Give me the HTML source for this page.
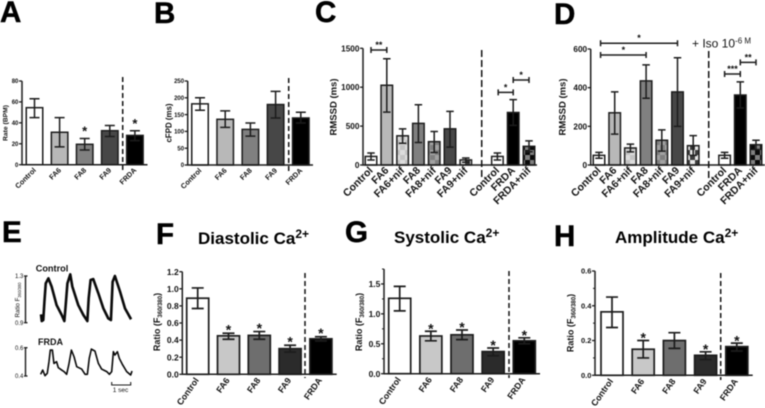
<!DOCTYPE html>
<html lang="en">
<head>
<meta charset="utf-8">
<title>Cardiac rate, RMSSD and calcium panels</title>
<style>
html,body{margin:0;padding:0;background:#fff;width:765px;height:408px;overflow:hidden}
svg{display:block;filter:blur(0.45px)}
text{font-family:"Liberation Sans",sans-serif;fill:#111}
.b{font-weight:bold}
.letter{font-size:29.5px;font-weight:bold;fill:#000;stroke:#000;stroke-width:0.5px}
.title{font-size:17px;font-weight:bold;fill:#000}
</style>
</head>
<body>
<svg id="fig" width="765" height="408" viewBox="0 0 765 408" xmlns="http://www.w3.org/2000/svg">
  <defs>
    <pattern id="chkLight" patternUnits="userSpaceOnUse" width="10" height="10"><rect width="10" height="10" fill="#c4c4c4"/><rect width="5" height="5" fill="#dcdcdc"/><rect x="5" y="5" width="5" height="5" fill="#dcdcdc"/></pattern>
    <pattern id="chkMid" patternUnits="userSpaceOnUse" width="10" height="10"><rect width="10" height="10" fill="#808080"/><rect width="5" height="5" fill="#a2a2a2"/><rect x="5" y="5" width="5" height="5" fill="#a2a2a2"/></pattern>
    <pattern id="chkDark" patternUnits="userSpaceOnUse" width="10" height="10"><rect width="10" height="10" fill="#3c3c3c"/><rect width="5" height="5" fill="#e8e8e8"/><rect x="5" y="5" width="5" height="5" fill="#e8e8e8"/></pattern>
    <pattern id="chkBlack" patternUnits="userSpaceOnUse" width="10" height="10"><rect width="10" height="10" fill="#0a0a0a"/><rect width="5" height="5" fill="#808080"/><rect x="5" y="5" width="5" height="5" fill="#808080"/></pattern>
  </defs>

  <text class="letter" x="0" y="22">A</text>
  <text class="letter" x="154" y="23">B</text>
  <text class="letter" x="315" y="22">C</text>
  <text class="letter" x="554" y="24">D</text>
  <text class="letter" x="2" y="242">E</text>
  <text class="letter" x="156" y="244">F</text>
  <text class="letter" x="345" y="242">G</text>
  <text class="letter" x="554" y="246">H</text>

  <text class="title" x="198" y="244">Diastolic Ca<tspan dy="-6" font-size="12">2+</tspan></text>
  <text class="title" x="394" y="243">Systolic Ca<tspan dy="-6" font-size="12">2+</tspan></text>
  <text class="title" x="615" y="243">Amplitude Ca<tspan dy="-6" font-size="12">2+</tspan></text>

  <text class="b" font-size="6.75" text-anchor="middle" transform="translate(7.5,123) rotate(-90)">Rate (BPM)</text>
  <text class="b" font-size="7.9" text-anchor="middle" transform="translate(171.5,123) rotate(-90)">cFPD (ms)</text>
  <text class="b" font-size="9.5" text-anchor="middle" transform="translate(336.5,107) rotate(-90)">RMSSD (ms)</text>
  <text class="b" font-size="9.5" text-anchor="middle" transform="translate(565.5,107) rotate(-90)">RMSSD (ms)</text>
  <text class="b" font-size="9" text-anchor="middle" transform="translate(160,322) rotate(-90)">Ratio (F<tspan font-size="6" dy="2">360/380</tspan><tspan dy="-2">)</tspan></text>
  <text class="b" font-size="9" text-anchor="middle" transform="translate(362,322) rotate(-90)">Ratio (F<tspan font-size="6" dy="2">360/380</tspan><tspan dy="-2">)</tspan></text>
  <text class="b" font-size="9" text-anchor="middle" transform="translate(573.5,323) rotate(-90)">Ratio (F<tspan font-size="6" dy="2">360/380</tspan><tspan dy="-2">)</tspan></text>

  <text font-size="12" x="692" y="47.5">+ Iso 10<tspan font-size="8" dy="-4">-6 M</tspan></text>

  <text class="b" font-size="9.2" x="35.7" y="271.7">Control</text>
  <text class="b" font-size="9" x="38" y="345">FRDA</text>
  <text font-size="6.2" text-anchor="middle" transform="translate(19.5,300) rotate(-90)">Ratio F<tspan font-size="4.2" dy="1.5">360/380</tspan></text>
</svg>

<script>
// ---- Panel A
const catsA = ['Control', 'FA6', 'FA8', 'FA9', 'FRDA'];
const valsA = [54.5, 31, 19.5, 32.5, 28];
const lowA = [45, 17, 14, 27, 23];
const highA = [63, 45, 25, 37.5, 32.5];
const starsA = ['', '', '*', '', '*'];
const ticksA = [0, 20, 40, 60, 80];
const tickLabelsA = ['0', '20', '40', '60', '80'];
// ---- Panel B
const catsB = ['Control', 'FA6', 'FA8', 'FA9', 'FRDA'];
const valsB = [182, 136, 106, 180, 140];
const lowB = [163, 112, 86, 140, 125];
const highB = [200, 161, 125, 219, 157];
const starsB = ['', '', '', '', ''];
const ticksB = [0, 50, 100, 150, 200, 250];
const tickLabelsB = ['0', '50', '100', '150', '200', '250'];
// ---- Panel C
const catsC = ['Control', 'FA6', 'FA6+nif', 'FA8', 'FA8+nif', 'FA9', 'FA9+nif', 'Control', 'FRDA', 'FRDA+nif'];
const valsC = [110, 1025, 375, 535, 300, 465, 65, 110, 675, 240];
const lowC = [65, 680, 280, 290, 160, 230, 35, 65, 510, 170];
const highC = [155, 1365, 465, 775, 430, 690, 90, 155, 840, 310];
const starsC = ['', '', '', '', '', '', '', '', '', ''];
const ticksC = [0, 500, 1000, 1500];
const tickLabelsC = ['0', '500', '1000', '1500'];
const bracketFromC = [0, 7.05, 8];
const bracketToC = [1, 8, 9];
const bracketLevelC = [1478, 934, 1093];
const bracketMarkC = ['**', '*', '*'];
// ---- Panel D
const catsD = ['Control', 'FA6', 'FA6+nif', 'FA8', 'FA8+nif', 'FA9', 'FA9+nif', 'Control', 'FRDA', 'FRDA+nif'];
const valsD = [50, 270, 88, 435, 128, 378, 100, 50, 362, 105];
const lowD = [35, 160, 68, 345, 72, 200, 50, 35, 295, 80];
const highD = [65, 378, 108, 518, 182, 555, 152, 65, 430, 128];
const starsD = ['', '', '', '', '', '', '', '', '', ''];
const ticksD = [0, 200, 400, 600];
const tickLabelsD = ['0', '200', '400', '600'];
const bracketFromD = [0.1, 0.1, 7, 8];
const bracketToD = [5, 3, 8, 9];
const bracketLevelD = [630, 569, 471, 531];
const bracketMarkD = ['*', '*', '***', '**'];
// ---- Panel F
const catsF = ['Control', 'FA6', 'FA8', 'FA9', 'FRDA'];
const valsF = [0.89, 0.45, 0.455, 0.30, 0.415];
const lowF = [0.77, 0.41, 0.41, 0.26, 0.39];
const highF = [1.01, 0.48, 0.50, 0.34, 0.44];
const starsF = ['', '*', '*', '*', '*'];
const ticksF = [0, 0.2, 0.4, 0.6, 0.8, 1.0, 1.2];
const tickLabelsF = ['0.0', '0.2', '0.4', '0.6', '0.8', '1.0', '1.2'];
// ---- Panel G
const catsG = ['Control', 'FA6', 'FA8', 'FA9', 'FRDA'];
const valsG = [1.26, 0.63, 0.65, 0.37, 0.55];
const lowG = [1.05, 0.55, 0.57, 0.30, 0.50];
const highG = [1.46, 0.71, 0.73, 0.43, 0.60];
const starsG = ['', '*', '*', '*', '*'];
const ticksG = [0, 0.5, 1.0, 1.5];
const minorTicksG = [0.25, 0.75, 1.25, 1.75];
const tickLabelsG = ['0.0', '0.5', '1.0', '1.5'];
// ---- Panel H
const catsH = ['Control', 'FA6', 'FA8', 'FA9', 'FRDA'];
const valsH = [0.365, 0.15, 0.20, 0.115, 0.165];
const lowH = [0.275, 0.10, 0.155, 0.09, 0.14];
const highH = [0.45, 0.20, 0.245, 0.135, 0.185];
const starsH = ['', '*', '', '*', '*'];
const ticksH = [0, 0.2, 0.4, 0.6];
const minorTicksH = [0.1, 0.3, 0.5];
const tickLabelsH = ['0.0', '0.2', '0.4', '0.6'];
// ---- Panel E traces
const controlTime = [0, .04, .12, .18, .25, .39, .56, .82, 1.09, 1.23, 1.30, 1.39, 1.54, 1.65, 1.96, 2.23, 2.44, 2.51, 2.61, 2.75, 3.02, 3.28, 3.54, 3.68, 3.77, 3.89, 4.16, 4.42, 4.74];
const controlRatio = [.971, .914, .923, 1.08, 1.237, 1.28, 1.209, 1.051, .966, .914, 1.051, 1.237, 1.314, 1.209, 1.051, .966, .914, 1.109, 1.266, 1.274, 1.151, 1.023, .937, .923, 1.251, 1.30, 1.166, 1.023, .929];
const frdaTime = [-.02, .09, .21, .33, .42, .49, .60, .68, .82, .91, 1.09, 1.21, 1.35, 1.46, 1.60, 1.74, 1.88, 2.14, 2.32, 2.44, 2.54, 2.65, 2.84, 3.02, 3.19, 3.46, 3.60, 3.72, 3.81, 3.89, 4.02, 4.12, 4.30, 4.51, 4.72, 4.79];
const frdaRatio = [.412, .442, .402, .419, .501, .583, .583, .489, .501, .459, .442, .431, .412, .478, .583, .536, .466, .449, .412, .412, .525, .590, .576, .489, .449, .431, .412, .431, .572, .548, .572, .525, .478, .431, .407, .435];
const controlTicks = [0.9, 1.3];
const controlTickLabels = ['0.9', '1.3'];
const frdaTicks = [0.4, 0.6];
const frdaTickLabels = ['0.4', '0.6'];

const svg = document.getElementById('fig');
const NS = 'http://www.w3.org/2000/svg';
function mk(tag, parent, props) {
  const e = document.createElementNS(NS, tag);
  for (const k in props) e.setAttribute(k, props[k]);
  parent.appendChild(e);
  return e;
}
const INK = '#1c1c1c';
const shades = ['#ffffff', '#b8b8b8', '#808080', '#474747', '#000000'];
const shadesCa = ['#ffffff', '#c8c8c8', '#6e6e6e', '#2b2b2b', '#000000'];
const shadesNif = ['#ffffff', '#b8b8b8', 'url(#chkLight)', '#808080', 'url(#chkMid)', '#474747', 'url(#chkDark)', '#ffffff', '#000000', 'url(#chkBlack)'];

function drawBars(c) {
  const g = mk('g', svg, {});
  
  
  const y = v => c.y0 - v * (c.y0 - c.yTop) / c.max;
  const x = i => c.x0 + c.step * (i + (i > c.gapAfter ? c.gapSlots : 0));

  c.vals.forEach((v, i) => {
    const bar = mk('rect', g, { x: x(i) - c.bw / 2, y: y(v), width: c.bw, height: c.y0 - y(v), fill: c.fills[i], stroke: INK, 'stroke-width': c.sw });
    
    

    const eb = mk('path', g, {
      d: `M${x(i) - c.cap / 2} ${y(c.high[i])}H${x(i) + c.cap / 2}M${x(i)} ${y(c.high[i])}V${y(c.low[i])}M${x(i) - c.cap / 2} ${y(c.low[i])}H${x(i) + c.cap / 2}`,
      fill: 'none', stroke: INK, 'stroke-width': c.sw
    });
    
    

    if (c.stars[i]) {
      const st = mk('text', g, { x: x(i), y: y(c.high[i]) - c.starGap + 0.55 * c.starSize, 'font-size': c.starSize, 'text-anchor': 'middle', 'class': 'b' });
      st.textContent = c.stars[i];
      
      
    }

    const lbl = mk('text', g, { 'font-size': c.catSize, 'text-anchor': 'end', 'class': 'b', transform: `translate(${x(i) + c.catDx},${c.y0 + c.catDy}) rotate(${c.catAngle})` });
    lbl.textContent = c.cats[i];
    
    
  });

  const axisY = mk('line', g, { x1: c.axisX, x2: c.axisX, y1: y(c.max), y2: c.y0, stroke: INK, 'stroke-width': 1.5 });
  
  
  const axisX = mk('line', g, { x1: c.axisX - 0.6, x2: c.axisEnd, y1: c.y0, y2: c.y0, stroke: INK, 'stroke-width': 1.5 });
  
  

  c.ticks.forEach((t, i) => {
    const tk = mk('line', g, { x1: c.axisX - 3, x2: c.axisX, y1: y(t), y2: y(t), stroke: INK, 'stroke-width': 1.3 });
    
    
    const tl = mk('text', g, { x: c.axisX - 3.6, y: y(t) + c.tickSize * 0.36, 'font-size': c.tickSize, 'text-anchor': 'end', 'class': 'b' });
    tl.textContent = c.tickLabels[i];
    
    
  });
  (c.minor || []).forEach(t => {
    const mt = mk('line', g, { x1: c.axisX - 2, x2: c.axisX, y1: y(t), y2: y(t), stroke: INK, 'stroke-width': 1 });
    
    
  });

  const dash = mk('line', g, { x1: c.dashX, x2: c.dashX, y1: c.dashTop, y2: c.dashBottom, stroke: '#111', 'stroke-width': 1.5, 'stroke-dasharray': c.dashArray });
  
  

  (c.brFrom || []).forEach((f, i) => {
    const x1 = x(Math.floor(f)) + (f % 1) * c.step;
    const x2 = x(c.brTo[i]);
    const by = y(c.brLevel[i]);
    const br = mk('path', g, { d: `M${x1} ${by - 3}V${by + 3}M${x1} ${by}H${x2}M${x2} ${by - 3}V${by + 3}`, fill: 'none', stroke: INK, 'stroke-width': 1.5 });
    
    
    const m = mk('text', g, { x: (x1 + x2) / 2, y: by - 7 + 5, 'font-size': 9, 'text-anchor': 'middle', 'class': 'b' });
    m.textContent = c.brMark[i];
    
    
  });
}

const panelCfg = [
  { id: 'a-rate', cats: catsA, vals: valsA, low: lowA, high: highA, stars: starsA, ticks: ticksA, tickLabels: tickLabelsA, max: 80, y0: 164.7, yTop: 81, axisX: 22, axisEnd: 147.5, x0: 34.5, step: 25.1, gapAfter: 99, gapSlots: 0, bw: 16.5, cap: 10, sw: 1.5, fills: shades, tickSize: 6, starGap: 10, starSize: 13, catSize: 7.3, catDx: 2, catDy: 6, catAngle: -45, dashX: 122.7, dashTop: 77, dashBottom: 170, dashArray: '5 3' },
  { id: 'b-cfpd', cats: catsB, vals: valsB, low: lowB, high: highB, stars: starsB, ticks: ticksB, tickLabels: tickLabelsB, max: 250, y0: 165, yTop: 81, axisX: 187.7, axisEnd: 313, x0: 200, step: 25.2, gapAfter: 99, gapSlots: 0, bw: 16.5, cap: 10, sw: 1.5, fills: shades, tickSize: 6, starGap: 10, starSize: 13, catSize: 7.3, catDx: 2, catDy: 6, catAngle: -45, dashX: 288.7, dashTop: 78, dashBottom: 172, dashArray: '5 3' },
  { id: 'c-rmssd', cats: catsC, vals: valsC, low: lowC, high: highC, stars: starsC, ticks: ticksC, tickLabels: tickLabelsC, max: 1500, y0: 165, yTop: 48.3, axisX: 363, axisEnd: 537, x0: 371, step: 15.8, gapAfter: 6, gapSlots: 1, bw: 11.5, cap: 7.5, sw: 1.5, fills: shadesNif, tickSize: 8.2, starGap: 10, starSize: 12, catSize: 10.5, catDx: 2.5, catDy: 6, catAngle: -45, dashX: 481.7, dashTop: 50, dashBottom: 179, dashArray: '7 3', brFrom: bracketFromC, brTo: bracketToC, brLevel: bracketLevelC, brMark: bracketMarkC },
  { id: 'd-rmssd-iso', cats: catsD, vals: valsD, low: lowD, high: highD, stars: starsD, ticks: ticksD, tickLabels: tickLabelsD, max: 600, y0: 165, yTop: 49, axisX: 590.7, axisEnd: 765, x0: 599, step: 15.7, gapAfter: 6, gapSlots: 1, bw: 11.5, cap: 7.5, sw: 1.5, fills: shadesNif, tickSize: 8.2, starGap: 10, starSize: 12, catSize: 10.5, catDx: 2.5, catDy: 6, catAngle: -45, dashX: 708.7, dashTop: 51, dashBottom: 180, dashArray: '7 3', brFrom: bracketFromD, brTo: bracketToD, brLevel: bracketLevelD, brMark: bracketMarkD },
  { id: 'f-diastolic', cats: catsF, vals: valsF, low: lowF, high: highF, stars: starsF, ticks: ticksF, tickLabels: tickLabelsF, max: 1.2, y0: 374.3, yTop: 271.7, axisX: 182.3, axisEnd: 336.7, x0: 197.7, step: 30.8, gapAfter: 99, gapSlots: 0, bw: 22, cap: 12, sw: 1.7, fills: shadesCa, tickSize: 8.5, starGap: 6.3, starSize: 14, catSize: 8.8, catDx: 1.5, catDy: 6, catAngle: -55, dashX: 305, dashTop: 273, dashBottom: 378, dashArray: '5 3' },
  { id: 'g-systolic', cats: catsG, vals: valsG, low: lowG, high: highG, stars: starsG, ticks: ticksG, tickLabels: tickLabelsG, minor: minorTicksG, max: 1.75, y0: 373.7, yTop: 269, axisX: 384, axisEnd: 540, x0: 399.7, step: 31.15, gapAfter: 99, gapSlots: 0, bw: 22, cap: 12, sw: 1.7, fills: shadesCa, tickSize: 8.5, starGap: 5.6, starSize: 14, catSize: 8.8, catDx: 1.5, catDy: 6, catAngle: -55, dashX: 509, dashTop: 271, dashBottom: 378, dashArray: '5 3' },
  { id: 'h-amplitude', cats: catsH, vals: valsH, low: lowH, high: highH, stars: starsH, ticks: ticksH, tickLabels: tickLabelsH, minor: minorTicksH, max: 0.6, y0: 375.3, yTop: 271, axisX: 595, axisEnd: 752.7, x0: 612, step: 31.2, gapAfter: 99, gapSlots: 0, bw: 22, cap: 12, sw: 1.7, fills: shadesCa, tickSize: 7.5, starGap: 5.5, starSize: 14, catSize: 8.8, catDx: 1.5, catDy: 6, catAngle: -55, dashX: 720.7, dashTop: 273, dashBottom: 380, dashArray: '5 3' }
];
panelCfg.forEach(drawBars);

// Panel E: calcium traces
function drawTrace(id, time, ratio, vMin, vMax, yMin, yMax, ticks, tickLabels, width) {
  const g = mk('g', svg, {});
  
  
  const tx = t => 41 + 19 * t;
  const ty = v => yMin - (v - vMin) * (yMin - yMax) / (vMax - vMin);
  const d = time.map((t, i) => (i ? 'L' : 'M') + tx(t).toFixed(2) + ' ' + ty(ratio[i]).toFixed(2)).join('');
  const p = mk('path', g, { d: d, fill: 'none', stroke: '#0a0a0a', 'stroke-width': width, 'stroke-linejoin': 'round' });
  
  
  const ax = mk('line', g, { x1: 25.5, x2: 25.5, y1: ty(vMax), y2: ty(vMin), stroke: INK, 'stroke-width': 1.4 });
  
  
  ticks.forEach((t, i) => {
    const tk = mk('line', g, { x1: 24, x2: 27.5, y1: ty(t), y2: ty(t), stroke: INK, 'stroke-width': 1.3 });
    
    
    const tl = mk('text', g, { x: 23.4, y: ty(t) + 2.2, 'font-size': 6, 'text-anchor': 'end' });
    tl.textContent = tickLabels[i];
    
    
  });
}
drawTrace('control', controlTime, controlRatio, 0.9, 1.3, 322.7, 276, controlTicks, controlTickLabels, 2.6);
drawTrace('frda', frdaTime, frdaRatio, 0.4, 0.6, 376, 347.7, frdaTicks, frdaTickLabels, 1.6);

const scaleBar = mk('path', svg, { d: 'M111.7 382V385H130.7V382', fill: 'none', stroke: INK, 'stroke-width': 1.1 });


const scaleLabel = mk('text', svg, { x: 120.5, y: 392, 'font-size': 6.5, 'text-anchor': 'middle' });
scaleLabel.textContent = '1 sec';


</script>
</body>
</html>
